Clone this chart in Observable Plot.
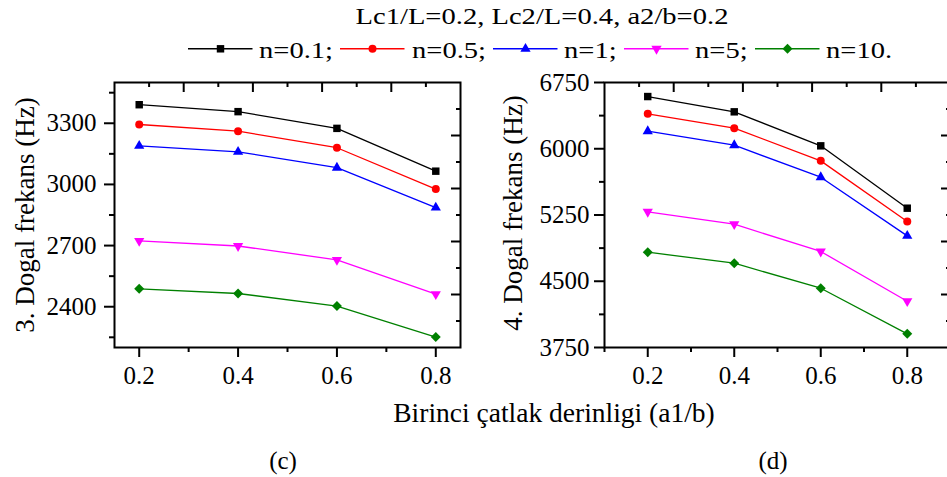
<!DOCTYPE html>
<html><head><meta charset="utf-8">
<script src="https://cdn.jsdelivr.net/npm/d3@7"></script>
<script src="https://cdn.jsdelivr.net/npm/@observablehq/plot@0.6"></script>
<style>
html,body{margin:0;padding:0;background:#fff;overflow:hidden}
#wrap{position:relative;width:947px;height:477px;overflow:hidden;font-family:"Liberation Serif","Times New Roman",serif;color:#000;background:#fff}
.abs{position:absolute;white-space:nowrap}
#legend{position:absolute;left:187.5px;top:39.5px;display:flex;align-items:flex-start;font-size:22.5px;line-height:22.5px;white-space:nowrap}
#legend .item{display:flex;align-items:flex-start;margin-right:7px}
#legend .tw{margin-left:7px;overflow:visible}
#legend .tw span{display:inline-block;transform-origin:0 0}
</style></head><body><div id="wrap"></div>
<script>
// ---- data ----
const crackDepth = [0.2, 0.4, 0.6, 0.8];
const seriesLabels = ["n=0.1;", "n=0.5;", "n=1;", "n=5;", "n=10."];
const seriesColors = ["#000000", "#ff0000", "#0000ff", "#ff00ff", "#008000"];

// 3rd natural frequency (Hz), panel (c)
const f3_n01 = [3391, 3357, 3275, 3065];
const f3_n05 = [3294, 3261, 3180, 2977];
const f3_n1  = [3189, 3160, 3082, 2886];
const f3_n5  = [2723, 2698, 2630, 2462];
const f3_n10 = [2488, 2465, 2403, 2251];

// 4th natural frequency (Hz), panel (d)
const f4_n01 = [6591, 6418, 6033, 5327];
const f4_n05 = [6396, 6233, 5863, 5176];
const f4_n1  = [6199, 6040, 5678, 5014];
const f4_n5  = [5286, 5146, 4837, 4274];
const f4_n10 = [4829, 4704, 4421, 3905];

// ticks
const xMajorTicks = [0.2, 0.4, 0.6, 0.8];
const xMinorTicksC = [0.3, 0.5, 0.7];
const xMinorTicksD = [0.1, 0.3, 0.5, 0.7];
const yMajorTicksC = [2400, 2700, 3000, 3300];
const yMinorTicksC = [2250, 2550, 2850, 3150, 3450];
const yMajorTicksD = [3750, 4500, 5250, 6000, 6750];
const yMinorTicksD = [4125, 4875, 5625, 6375];

// texts
const titleText = "Lc1/L=0.2, Lc2/L=0.4, a2/b=0.2";
const yLabelC = "3. Dogal frekans (Hz)";
const yLabelD = "4. Dogal frekans (Hz)";
const xLabel = "Birinci çatlak derinligi (a1/b)";

// ---- symbols ----
const triangleDown = {
  draw(ctx, size) {
    const y = Math.sqrt(size / (Math.sqrt(3) * 3));
    ctx.moveTo(0, 2 * y);
    ctx.lineTo(-Math.sqrt(3) * y, -y);
    ctx.lineTo(Math.sqrt(3) * y, -y);
    ctx.closePath();
  }
};
const seriesSymbols = ["square", "circle", "triangle", triangleDown, "diamond2"];
const seriesR = [4.2, 4.0, 3.8, 3.8, 4.5];

const wrap = document.getElementById("wrap");

function panel(seriesValues, o) {
  const rows = [];
  seriesValues.forEach((vals, i) => vals.forEach((v, j) => rows.push({s: i, x: crackDepth[j], y: v})));
  const [x0, x1] = o.xDomain, [y0, y1] = o.yDomain;
  const topTicks = d3.range(1, 10).map(k => x0 + k * (x1 - x0) / 10);
  const rightTicks = d3.range(1, 10).map(k => y0 + k * (y1 - y0) / 10);
  const longT = a => a.filter((_, i) => i % 2 === 1);
  const shortT = a => a.filter((_, i) => i % 2 === 0);
  const blank = () => "";
  const marks = [
    Plot.axisX({ticks: xMajorTicks, tickSize: 10, tickPadding: 9, fontSize: 25, strokeWidth: 2, label: null, tickFormat: d3.format(".1f")}),
    Plot.axisX({ticks: o.xMinor, tickSize: 5, strokeWidth: 2, label: null, tickFormat: blank}),
    Plot.axisX({anchor: "top", ticks: longT(topTicks), tickSize: -9, strokeWidth: 2, label: null, tickFormat: blank}),
    Plot.axisX({anchor: "top", ticks: shortT(topTicks), tickSize: -4, strokeWidth: 2, label: null, tickFormat: blank}),
    Plot.axisY({ticks: o.yMajor, tickSize: 10, tickPadding: o.tickPad, fontSize: 25, strokeWidth: 2, label: null, tickFormat: d3.format("d")}),
    Plot.axisY({ticks: o.yMinor, tickSize: 5, strokeWidth: 2, label: null, tickFormat: blank}),
    Plot.axisY({anchor: "right", ticks: longT(rightTicks), tickSize: -10, strokeWidth: 2, label: null, tickFormat: blank}),
    Plot.axisY({anchor: "right", ticks: shortT(rightTicks), tickSize: -5, strokeWidth: 2, label: null, tickFormat: blank}),
    Plot.frame({strokeWidth: 2}),
    ...seriesValues.map((_, i) => Plot.line(rows.filter(r => r.s === i), {x: "x", y: "y", stroke: seriesColors[i], strokeWidth: 1.3})),
    ...seriesValues.map((_, i) => Plot.dot(rows.filter(r => r.s === i), {x: "x", y: "y", fill: seriesColors[i], stroke: "none", symbol: seriesSymbols[i], r: seriesR[i]}))
  ];
  const svg = Plot.plot({
    width: 470, height: 325,
    marginLeft: 114, marginRight: 10, marginTop: 10, marginBottom: 50,
    x: {domain: o.xDomain},
    y: {domain: o.yDomain},
    style: {fontFamily: "'Liberation Serif','Times New Roman',serif", background: "transparent", color: "#000", overflow: "visible"},
    marks
  });
  svg.style.position = "absolute";
  svg.style.left = o.left + "px";
  svg.style.top = "72px";
  wrap.appendChild(svg);
}

panel([f3_n01, f3_n05, f3_n1, f3_n5, f3_n10], {
  left: 0, xDomain: [0.15, 0.85], yDomain: [2200, 3500],
  xMinor: xMinorTicksC, yMajor: yMajorTicksC, yMinor: yMinorTicksC, tickPad: 8
});
panel([f4_n01, f4_n05, f4_n1, f4_n5, f4_n10], {
  left: 490, xDomain: [0.1, 0.9], yDomain: [3750, 6750],
  xMinor: xMinorTicksD, yMajor: yMajorTicksD, yMinor: yMinorTicksD, tickPad: 5
});

// ---- texts ----
function addText(txt, css) {
  const d = document.createElement("div");
  d.className = "abs";
  d.textContent = txt;
  Object.assign(d.style, css);
  wrap.appendChild(d);
  return d;
}
const wideX = 1.27;
addText(titleText, {left: "541.5px", top: "6.2px", fontSize: "22.5px", lineHeight: "22.5px", transform: `translateX(-50%) scaleX(${wideX})`});
addText(xLabel, {left: "554px", top: "399.4px", fontSize: "27.5px", lineHeight: "27px", transform: "translateX(-50%)"});
addText("(c)", {left: "283px", top: "447.6px", fontSize: "25px", lineHeight: "25px", transform: "translateX(-50%)"});
addText("(d)", {left: "773px", top: "447.6px", fontSize: "25px", lineHeight: "25px", transform: "translateX(-50%)"});
addText(yLabelC, {left: "25px", top: "214.5px", fontSize: "27px", lineHeight: "27px", transform: "translate(-50%,-50%) rotate(-90deg)"});
addText(yLabelD, {left: "513px", top: "212.5px", fontSize: "27px", lineHeight: "27px", transform: "translate(-50%,-50%) rotate(-90deg)"});

// ---- legend ----
const legend = document.createElement("div");
legend.id = "legend";
wrap.appendChild(legend);
const symType = {square: d3.symbolSquare, circle: d3.symbolCircle, triangle: d3.symbolTriangle, diamond2: d3.symbolDiamond2};
seriesLabels.forEach((lab, i) => {
  const item = document.createElement("div");
  item.className = "item";
  const s = d3.create("svg").attr("width", 64.5).attr("height", 22.5).style("overflow", "visible");
  s.append("line").attr("x1", 0).attr("x2", 64.5).attr("y1", 8.8).attr("y2", 8.8).attr("stroke", seriesColors[i]).attr("stroke-width", 1.4);
  const t = typeof seriesSymbols[i] === "string" ? symType[seriesSymbols[i]] : seriesSymbols[i];
  s.append("path").attr("transform", "translate(32.5,8.8)").attr("d", d3.symbol(t, Math.PI * seriesR[i] * seriesR[i])()).attr("fill", seriesColors[i]);
  item.appendChild(s.node());
  const tw = document.createElement("div");
  tw.className = "tw";
  const sp = document.createElement("span");
  sp.textContent = lab;
  tw.appendChild(sp);
  item.appendChild(tw);
  legend.appendChild(item);
  const w = sp.getBoundingClientRect().width;
  sp.style.transform = `scaleX(${wideX})`;
  tw.style.width = (w * wideX) + "px";
});
</script></body></html>
